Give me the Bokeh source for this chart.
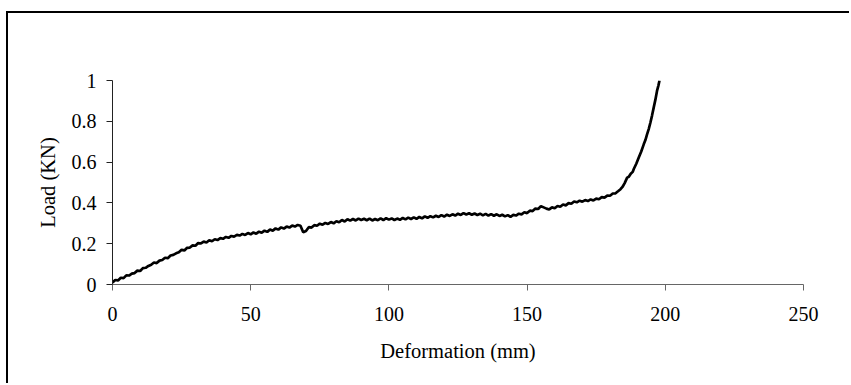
from bokeh.plotting import figure
from bokeh.models import Range1d, FixedTicker
from bokeh.embed import file_html
from bokeh.resources import INLINE

# Deformation (mm)
deformation = [
    0, 1, 2, 3, 4, 5, 6, 7, 8, 9,
    10, 11, 12, 13, 14, 15, 16, 17, 18, 19,
    20, 21, 22, 23, 24, 25, 26, 27, 28, 29,
    30, 31, 32, 33, 34, 35, 36, 37, 38, 39,
    40, 41, 42, 43, 44, 45, 46, 47, 48, 49,
    50, 51, 52, 53, 54, 55, 56, 57, 58, 59,
    60, 61, 62, 63, 64, 65, 66, 67, 68, 69,
    70, 71, 72, 73, 74, 75, 76, 77, 78, 79,
    80, 81, 82, 83, 84, 85, 86, 87, 88, 89,
    90, 91, 92, 93, 94, 95, 96, 97, 98, 99,
    100, 101, 102, 103, 104, 105, 106, 107, 108, 109,
    110, 111, 112, 113, 114, 115, 116, 117, 118, 119,
    120, 121, 122, 123, 124, 125, 126, 127, 128, 129,
    130, 131, 132, 133, 134, 135, 136, 137, 138, 139,
    140, 141, 142, 143, 144, 145, 146, 147, 148, 149,
    150, 151, 152, 153, 154, 155, 156, 157, 158, 159,
    160, 161, 162, 163, 164, 165, 166, 167, 168, 169,
    170, 171, 172, 173, 174, 175, 176, 177, 178, 179,
    180, 181, 182, 183, 183.8, 184.5, 185.3, 186.2, 186.8, 187.5,
    188.2, 188.6, 189.5, 190.4, 191.3, 192.2, 192.8, 193.4, 194.0, 194.6,
    195.2, 195.8, 196.4, 197.0, 197.5, 197.9,
]

# Load (KN)
load = [
    0.010, 0.022, 0.020, 0.033, 0.031, 0.045, 0.044, 0.053, 0.056, 0.068,
    0.066, 0.080, 0.082, 0.091, 0.097, 0.108, 0.105, 0.117, 0.120, 0.131,
    0.129, 0.142, 0.145, 0.153, 0.158, 0.170, 0.167, 0.180, 0.181, 0.192,
    0.190, 0.203, 0.201, 0.210, 0.206, 0.217, 0.212, 0.222, 0.218, 0.227,
    0.224, 0.233, 0.229, 0.238, 0.235, 0.243, 0.240, 0.248, 0.243, 0.252,
    0.246, 0.255, 0.249, 0.259, 0.254, 0.264, 0.258, 0.270, 0.264, 0.275,
    0.269, 0.280, 0.274, 0.284, 0.279, 0.289, 0.284, 0.292, 0.288, 0.256,
    0.262, 0.281, 0.279, 0.291, 0.288, 0.298, 0.293, 0.302, 0.297, 0.306,
    0.300, 0.310, 0.305, 0.316, 0.309, 0.320, 0.313, 0.321, 0.314, 0.323,
    0.316, 0.322, 0.315, 0.323, 0.314, 0.321, 0.315, 0.324, 0.316, 0.325,
    0.318, 0.324, 0.316, 0.323, 0.317, 0.326, 0.319, 0.328, 0.321, 0.329,
    0.322, 0.331, 0.324, 0.334, 0.327, 0.335, 0.329, 0.337, 0.331, 0.340,
    0.333, 0.342, 0.336, 0.344, 0.338, 0.347, 0.341, 0.350, 0.343, 0.349,
    0.342, 0.348, 0.341, 0.347, 0.339, 0.346, 0.338, 0.345, 0.337, 0.344,
    0.336, 0.342, 0.334, 0.340, 0.332, 0.341, 0.338, 0.347, 0.344, 0.354,
    0.350, 0.362, 0.360, 0.372, 0.370, 0.384, 0.378, 0.372, 0.368, 0.378,
    0.374, 0.385, 0.381, 0.392, 0.388, 0.399, 0.396, 0.407, 0.403, 0.411,
    0.406, 0.414, 0.409, 0.417, 0.412, 0.421, 0.418, 0.428, 0.426, 0.436,
    0.435, 0.446, 0.447, 0.458, 0.467, 0.478, 0.497, 0.524, 0.528, 0.543,
    0.552, 0.566, 0.592, 0.622, 0.652, 0.687, 0.708, 0.736, 0.762, 0.793,
    0.828, 0.867, 0.905, 0.949, 0.975, 1.000,
]

x_ticks = [0, 50, 100, 150, 200, 250]
y_ticks = [0, 0.2, 0.4, 0.6, 0.8, 1]
y_tick_labels = ["0", "0.2", "0.4", "0.6", "0.8", "1"]

FONT = "Liberation Serif"

p = figure(
    width=843, height=372,
    x_range=Range1d(0, 250), y_range=Range1d(0, 1),
    output_backend="svg", toolbar_location=None,
    min_border_left=104, min_border_right=48,
    min_border_top=67, min_border_bottom=101,
    styles={
        "margin-left": "6px",
        "margin-top": "11px",
        "border-left": "2px solid black",
        "border-top": "2px solid black",
    },
)
p.outline_line_color = None
p.xgrid.visible = False
p.ygrid.visible = False
p.background_fill_color = "white"
p.border_fill_color = "white"

p.line(deformation, load, line_color="black", line_width=2.7)

# x axis
xa = p.xaxis[0]
xa.ticker = FixedTicker(ticks=x_ticks)
xa.axis_label = "Deformation (mm)"
xa.axis_line_color = "#666666"
xa.major_tick_line_color = "#666666"
xa.major_tick_out = 6
xa.major_tick_in = 0
xa.minor_tick_line_color = None
xa.major_label_standoff = 16
xa.axis_label_standoff = 16
xa.major_label_text_font = FONT
xa.major_label_text_font_size = "20px"
xa.major_label_text_color = "black"
xa.axis_label_text_font = FONT
xa.axis_label_text_font_size = "20.5px"
xa.axis_label_text_font_style = "normal"
xa.axis_label_text_color = "black"

# y axis
ya = p.yaxis[0]
ya.ticker = FixedTicker(ticks=y_ticks)
ya.major_label_overrides = {t: l for t, l in zip(y_ticks, y_tick_labels)}
ya.axis_label = "Load (KN)"
ya.axis_line_color = "#222222"
ya.major_tick_line_color = "#222222"
ya.major_tick_out = 6
ya.major_tick_in = 0
ya.minor_tick_line_color = None
ya.major_label_standoff = 10
ya.axis_label_standoff = 10
ya.major_label_text_font = FONT
ya.major_label_text_font_size = "20px"
ya.major_label_text_color = "black"
ya.axis_label_text_font = FONT
ya.axis_label_text_font_size = "20.5px"
ya.axis_label_text_font_style = "normal"
ya.axis_label_text_color = "black"

open("out.html", "w").write(file_html(p, INLINE))
